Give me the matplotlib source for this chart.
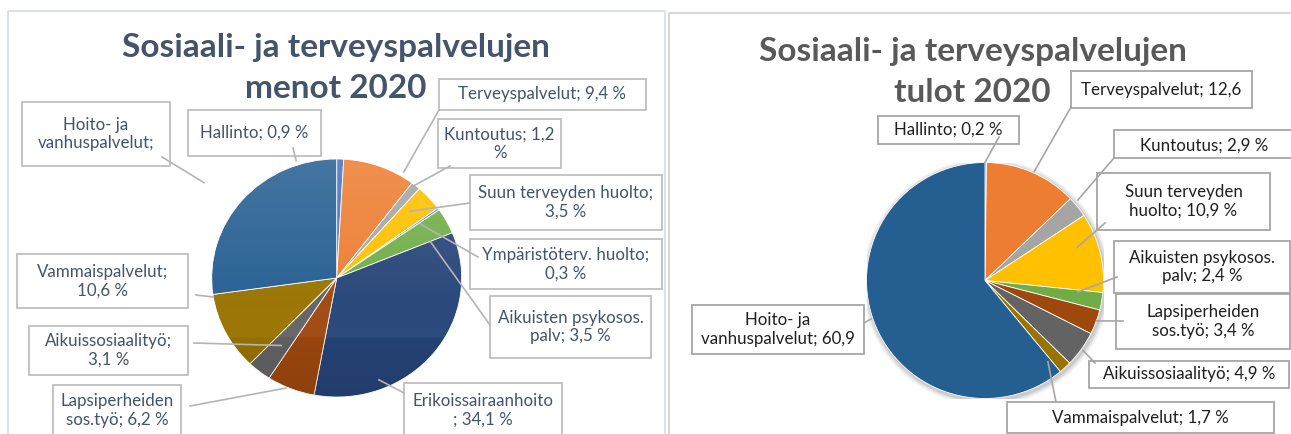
import matplotlib
matplotlib.use("Agg")
import matplotlib.pyplot as plt
import numpy as np
from matplotlib.patches import Rectangle, Circle
from matplotlib.lines import Line2D

W, H = 1291, 434

# ---------------- data ----------------
left_title = ["Sosiaali- ja terveyspalvelujen", "menot 2020"]
left_values = [0.9, 9.4, 1.2, 3.5, 0.3, 3.5, 34.1, 6.2, 3.1, 10.6, 27.2]
left_texts = ["Hallinto; 0,9 %", "Terveyspalvelut; 9,4 %", "Kuntoutus; 1,2\n%",
              "Suun terveyden huolto;\n3,5 %", "Ympäristöterv. huolto;\n0,3 %",
              "Aikuisten psykosos.\npalv; 3,5 %", "Erikoissairaanhoito\n; 34,1 %",
              "Lapsiperheiden\nsos.työ; 6,2 %", "Aikuissosiaalityö;\n3,1 %",
              "Vammaispalvelut;\n10,6 %", "Hoito- ja\nvanhuspalvelut;"]
left_colors = ["#4472C4", "#ED7D31", "#A5A5A5", "#FFC000", "#5B9BD5", "#70AD47",
               "#264478", "#9E480E", "#636363", "#997300", "#255E91"]

right_title = ["Sosiaali- ja terveyspalvelujen", "tulot 2020"]
right_values = [0.2, 12.6, 2.9, 10.9, 2.4, 3.4, 4.9, 1.7, 60.9]
right_texts = ["Hallinto; 0,2 %", "Terveyspalvelut; 12,6", "Kuntoutus; 2,9 %",
               "Suun terveyden\nhuolto; 10,9 %", "Aikuisten psykosos.\npalv; 2,4 %",
               "Lapsiperheiden\nsos.työ; 3,4 %", "Aikuissosiaalityö; 4,9 %",
               "Vammaispalvelut; 1,7 %", "Hoito- ja\nvanhuspalvelut; 60,9"]
right_colors = ["#4472C4", "#ED7D31", "#A5A5A5", "#FFC000", "#70AD47",
                "#9E480E", "#636363", "#997300", "#255E91"]

# ---------------- layout (pixels) ----------------
left_pie = dict(cx=336.7, cy=278, rx=125, ry=119)
right_pie = dict(cx=985, cy=280.5, rx=118.5, ry=118)

# box (x0, y0, x1, y1), text centre, leader start, (angle offset, radius factor)
left_boxes = [(188, 110, 321, 156), (439, 79, 646, 110), (438, 119, 561, 168),
              (470, 175, 662, 230), (470, 239, 662, 289), (490, 296, 651, 358),
              (404, 383, 562, 440), (53, 385, 181, 440), (29, 326, 188, 375),
              (17, 254, 188, 308), (22, 102, 170, 166)]
left_tc = [None, None, None, None, None, None, (483, 410.5), (117, 410.5), None, None, None]
left_start = [(293, 148), (439, 110), (450, 166), (470, 203), (478, 257), (490, 325),
              (404, 393), (190, 406), (194, 343), (196, 295), (162, 157)]
left_anchor = [(19.8, 1.04), (-10.9, 1.04), (0.5, 1.0), (1.5, 0.81), (-1.5, 0.81),
               (-6.7, 0.81), (-29.4, 0.92), (-2.1, 1.01), (0.3, 0.72), (-17.8, 1.0),
               (4.0, 1.33)]

right_boxes = [(878, 116, 1019, 144), (1071, 71, 1252, 108), (1114, 130, 1300, 158),
               (1097, 173, 1270, 230), (1114, 241, 1290, 293), (1116, 294, 1290, 349),
               (1089, 361, 1289, 388), (1007, 402, 1274, 433), (692, 305, 864, 354)]
right_tc = [None, None, (1204, 146), None, None, None, None, None, None]
right_start = [(999, 137), (1071, 107), (1114, 158), (1105, 223), (1117, 277),
               (1123, 321), (1095, 363), (1056, 402), (864, 323)]
right_anchor = [(0.4, 1.0), (-0.8, 1.01), (2.4, 1.04), (6.1, 0.83), (3.1, 0.79),
                (0.6, 1.0), (0.0, 1.015), (-4.9, 0.87), (-1.0, 1.016)]

LABEL_FONT = ["Lato", "DejaVu Sans"]
TITLE_FONT = ["Lato", "DejaVu Sans"]

fig = plt.figure(figsize=(W / 100, H / 100), dpi=100)
fig.patch.set_facecolor("white")

# overlay axes in pixel coordinates
ov = fig.add_axes([0, 0, 1, 1], zorder=5)
ov.set_xlim(0, W)
ov.set_ylim(H, 0)
ov.axis("off")
ov.patch.set_alpha(0)

# panel borders
ov.add_patch(Rectangle((7.5, 10.5), 657, 430, fill=False, ec="#d6dce4", lw=1.2, zorder=1))
ov.add_patch(Rectangle((669, 12.5), 640, 430, fill=False, ec="#d0d0d0", lw=1.2, zorder=1))


def make_pie(geom, values, colors, gradient, shadow):
    ax = fig.add_axes([(geom["cx"] - geom["rx"]) / W, (H - geom["cy"] - geom["ry"]) / H,
                       2 * geom["rx"] / W, 2 * geom["ry"] / H], zorder=2)
    if shadow:
        for k, a in [(1.045, 0.05), (1.03, 0.07), (1.015, 0.09)]:
            ax.add_patch(Circle((0.01, -0.015), k, color="#000000", alpha=a, lw=0, zorder=0))
    wedges, _ = ax.pie(values, colors=colors, startangle=90, counterclock=False, radius=1,
                       wedgeprops=dict(edgecolor="white", linewidth=0.6))
    ax.set_aspect("auto")
    ax.set_xlim(-1, 1)
    ax.set_ylim(-1, 1)
    ax.axis("off")
    if gradient:
        n = 256
        t = np.linspace(0, 1, n)[:, None]  # 0 top, 1 bottom
        img = np.zeros((n, 2, 4))
        white_a = np.clip(0.15 * (1 - t / 0.75), 0, None)
        black_a = np.clip(0.10 * (t - 0.6) / 0.4, 0, None)
        col = np.where(white_a > 0, 1.0, 0.0)
        img[..., 0] = col
        img[..., 1] = col
        img[..., 2] = col
        img[..., 3] = white_a + black_a
        im = ax.imshow(img, extent=(-1, 1, -1, 1), aspect="auto", zorder=3,
                       interpolation="bilinear")
        im.set_clip_path(Circle((0, 0), 1, transform=ax.transData))
        ax.set_xlim(-1, 1)
        ax.set_ylim(-1, 1)
    return ax, wedges


def draw_labels(ax, wedges, texts, boxes, tcs, starts, anchors, tcolor, ecolor, lcolor, fsize):
    for i, w in enumerate(wedges):
        off, rf = anchors[i]
        ang = np.deg2rad((w.theta1 + w.theta2) / 2 + off)
        p = ax.transData.transform((rf * np.cos(ang), rf * np.sin(ang)))
        px, py = ov.transData.inverted().transform(p)
        x0, y0, x1, y1 = boxes[i]
        ov.add_patch(Rectangle((x0, y0), x1 - x0, y1 - y0, fc="white", ec=ecolor,
                               lw=1.3, zorder=2))
        sx, sy = starts[i]
        ov.add_line(Line2D([sx, px], [sy, py], color=lcolor, lw=1.2, zorder=3))
        if tcs[i] is None:
            tx, ty = (x0 + x1) / 2, (y0 + y1) / 2
        else:
            tx, ty = tcs[i]
        ov.text(tx, ty, texts[i], ha="center", va="center", ma="center", color=tcolor,
                fontsize=fsize, family=LABEL_FONT, linespacing=1.2, zorder=4)


axL, wL = make_pie(left_pie, left_values, left_colors, gradient=True, shadow=False)
axR, wR = make_pie(right_pie, right_values, right_colors, gradient=False, shadow=True)

draw_labels(axL, wL, left_texts, left_boxes, left_tc, left_start, left_anchor,
            "#44546A", "#bfbfbf", "#b4b4b4", 12.2)
draw_labels(axR, wR, right_texts, right_boxes, right_tc, right_start, right_anchor,
            "#1f1f1f", "#a6a6a6", "#a6a6a6", 12.2)

for line, y in zip(left_title, [47, 88]):
    ov.text(335.5, y, line, ha="center", va="center", color="#44546A",
            fontsize=24, fontweight="bold", family=TITLE_FONT, zorder=1)
for line, y in zip(right_title, [52, 93]):
    ov.text(972.5, y, line, ha="center", va="center", color="#595959",
            fontsize=24, fontweight="bold", family=TITLE_FONT, zorder=1)

fig.savefig("out.png", dpi=100, facecolor="white")
